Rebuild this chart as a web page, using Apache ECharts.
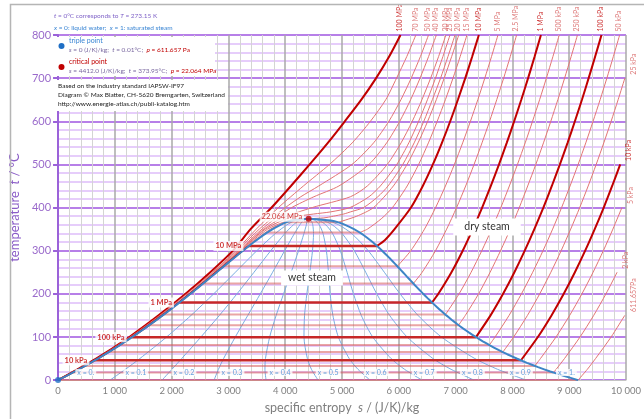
<!DOCTYPE html>
<html><head><meta charset="utf-8">
<script src="https://cdn.jsdelivr.net/npm/echarts@6/dist/echarts.min.js"></script>
<style>html,body{margin:0;padding:0;background:#fff}#c{width:644px;height:419px}</style>
</head><body><div id="c"></div>
<script>
// ---------- DATA (s in J/(K·kg), t in °C) ----------
const SAT_T  = [0.01,10,20,30,40,50,60,70,80,90,100,110,120,130,140,150,160,170,180,190,200,210,220,230,240,250,260,270,280,290,300,310,320,330,340,350,360,365,370,372,373.95];
const SAT_SL = [0,151,297,437,572,704,831,955,1076,1193,1307,1419,1528,1635,1739,1842,1943,2042,2139,2236,2331,2425,2518,2610,2702,2794,2885,2977,3069,3161,3255,3351,3449,3552,3660,3778,3917,4001,4111,4200,4412];
const SAT_SV = [9156,8900,8666,8452,8256,8075,7908,7754,7611,7478,7354,7238,7129,7026,6929,6837,6749,6665,6584,6506,6430,6356,6284,6213,6142,6072,6002,5930,5858,5783,5706,5624,5537,5442,5336,5211,5054,4950,4801,4660,4412];

const Q_T  = [0.01,25,50,100,150,200,250,300,340,360,370,373.95];
const Q_01 = [916,1186,1441,1912,2342,2741,3122,3500,3828,4031,4180,4412];
const Q_02 = [1831,2005,2178,2516,2841,3151,3450,3745,3995,4144,4249,4412];
const Q_03 = [2747,2824,2915,3121,3341,3561,3778,3990,4163,4258,4318,4412];
const Q_04 = [3662,3643,3652,3726,3840,3971,4105,4235,4330,4372,4387,4412];
const Q_05 = [4578,4462,4390,4330,4340,4381,4433,4480,4498,4485,4456,4412];
const Q_06 = [5493,5281,5127,4935,4839,4791,4761,4725,4665,4599,4525,4412];
const Q_07 = [6409,6101,5864,5540,5339,5201,5089,4970,4833,4713,4594,4412];
const Q_08 = [7324,6920,6601,6145,5838,5611,5417,5216,5000,4827,4663,4412];
const Q_09 = [8240,7739,7338,6749,6338,6021,5745,5461,5168,4940,4732,4412];
const QL_S = [261,1107,1953,2799,3645,4492,5338,6184,7031,7877,8723];
const QL_T = 17.5;
const QL_TEXT = ['x = 0.','x = 0.1','x = 0.2','x = 0.3','x = 0.4','x = 0.5','x = 0.6','x = 0.7','x = 0.8','x = 0.9','x = 1.'];

// supercritical isobars [s, t]
const P_100MPA = [[0,0],[670,50],[1255,100],[1770,150],[2245,200],[2680,250],[3080,300],[3390,350],[3760,400],[4100,450],[4430,500],[4750,550],[5050,600],[5340,650],[5600,700],[5830,750],[6030,800]];
const P_70MPA  = [[0,0],[685,50],[1270,100],[1790,150],[2270,200],[2720,250],[3130,300],[3490,350],[3880,400],[4320,450],[4780,500],[5180,550],[5500,600],[5770,650],[5960,700],[6140,750],[6300,800]];
const P_50MPA  = [[0,0],[697,50],[1279,100],[1823,150],[2299,200],[2736,250],[3149,300],[3543,350],[3764,375],[4003,400],[4273,425],[4590,450],[5176,500],[5556,550],[5825,600],[6037,650],[6218,700],[6380,750],[6523,800]];
const P_40MPA  = [[0,0],[700,50],[1285,100],[1828,150],[2310,200],[2755,250],[3175,300],[3590,350],[3829,375],[4115,400],[4504,425],[4945,450],[5474,500],[5786,550],[6017,600],[6208,650],[6374,700],[6524,750],[6661,800]];
const P_30MPA  = [[0,0],[702,50],[1292,100],[1832,150],[2318,200],[2770,250],[3197,300],[3625,350],[3932,375],[4476,400],[5147,425],[5445,450],[5796,500],[6040,550],[6237,600],[6407,650],[6560,700],[6700,750],[6829,800]];
const P_25MPA  = [[0,0],[703,50],[1295,100],[1835,150],[2320,200],[2775,250],[3207,300],[3650,350],[4034,375],[4220,380],[4500,385],[4800,390],[5140,400],[5474,425],[5675,450],[5964,500],[6176,550],[6349,600],[6504,650],[6646,700],[6776,750],[6901,800]];
const P_22MPA  = [[0,0],[703,50],[1297,100],[1838,150],[2323,200],[2780,250],[3215,300],[3690,350],[3950,365],[4080,370],[4412,373.95],[4680,376],[4850,380],[5030,385],[5150,390],[5380,400],[5630,425],[5810,450],[6070,500],[6270,550],[6440,600],[6590,650],[6735,700],[6865,750],[6990,800]];

// subcritical: compressed-liquid parts
const L_20MPA = [[0,0],[702,50],[1298,100],[1837,150],[2323,200],[2782,250],[3225,300],[3740,350],[4015,365.75]];
const L_15MPA = [[0,0],[702,50],[1300,100],[1838,150],[2326,200],[2786,250],[3238,300],[3685,342.16]];
const L_10MPA = [[0,0],[701,50],[1302,100],[1836,150],[2324,200],[2785,250],[3247,300],[3360,311.0]];

// subcritical: wet-steam segments
const WET_NAME = ['20 MPa','15 MPa','10 MPa','5 MPa','2.5 MPa','1 MPa','500 kPa','250 kPa','100 kPa','50 kPa','25 kPa','10 kPa','5 kPa','2 kPa','611.657Pa'];
const WET_T  = [365.75,342.16,311.00,263.94,223.95,179.88,151.83,127.41,99.61,81.32,64.96,45.81,32.87,17.50,0.01];
const WET_SF = [4015,3685,3360,2921,2554,2138,1860,1607,1303,1091,893,649,476,261,0];
const WET_SG = [4931,5311,5616,5974,6256,6585,6821,7052,7359,7593,7831,8149,8394,8723,9156];

// subcritical: superheated-steam parts
const V_20MPA  = [[4931,365.75],[5260,380],[5555,400],[5904,450],[6145,500],[6339,550],[6508,600],[6660,650],[6799,700],[6930,750],[7055,800]];
const V_15MPA  = [[5311,342.16],[5447,350],[5700,375],[5888,400],[6147,450],[6349,500],[6521,550],[6676,600],[6820,650],[6954,700],[7080,750],[7200,800]];
const V_10MPA  = [[5616,311.0],[5757,325],[5925,350],[6214,400],[6422,450],[6600,500],[6759,550],[6905,600],[7040,650],[7170,700],[7292,750],[7409,800]];
const V_5MPA   = [[5974,263.94],[6211,300],[6452,350],[6648,400],[6821,450],[6978,500],[7124,550],[7261,600],[7391,650],[7514,700],[7632,750],[7746,800]];
const V_2_5MPA = [[6256,223.95],[6411,250],[6646,300],[6842,350],[7017,400],[7177,450],[7325,500],[7465,550],[7598,600],[7724,650],[7846,700],[7962,750],[8074,800]];
const V_1MPA   = [[6585,179.88],[6696,200],[6927,250],[7125,300],[7303,350],[7467,400],[7620,450],[7764,500],[7900,550],[8031,600],[8156,650],[8276,700],[8391,750],[8502,800]];
const V_500KPA = [[6821,151.83],[7061,200],[7273,250],[7461,300],[7635,350],[7796,400],[7946,450],[8089,500],[8225,550],[8354,600],[8479,650],[8598,700],[8713,750],[8824,800]];
const V_250KPA = [[7052,127.41],[7171,150],[7405,200],[7607,250],[7791,300],[7963,350],[8121,400],[8269,450],[8412,500],[8547,550],[8676,600],[8800,650],[8919,700],[9034,750],[9145,800]];
const V_100KPA = [[7359,99.61],[7615,150],[7836,200],[8035,250],[8217,300],[8386,350],[8545,400],[8694,450],[8836,500],[8971,550],[9100,600],[9224,650],[9342,700],[9457,750],[9568,800]];
const V_50KPA  = [[7593,81.32],[7695,100],[7941,150],[8159,200],[8357,250],[8539,300],[8708,350],[8866,400],[9015,450],[9157,500],[9292,550],[9420,600],[9544,650],[9663,700],[9777,750],[9888,800]];
const V_25KPA  = [[7831,64.96],[8022,100],[8265,150],[8481,200],[8677,250],[8858,300],[9026,350],[9185,400],[9334,450],[9475,500],[9609,550],[9738,600],[9861,650],[9980,700]];
const V_10KPA  = [[8149,45.81],[8174,50],[8448,100],[8688,150],[8904,200],[9100,250],[9281,300],[9449,350],[9608,400],[9756,450],[9898,500]];
const V_5KPA   = [[8394,32.87],[8494,50],[8768,100],[9008,150],[9224,200],[9420,250],[9601,300],[9769,350],[9928,400]];
const V_2KPA   = [[8723,17.50],[8770,25],[8917,50],[9191,100],[9431,150],[9647,200],[9843,250]];
const V_611PA  = [[9156,0.01],[9319,25],[9464,50],[9738,100],[9978,150]];

const TRIPLE = [0, 0.01];
const CRIT = [4412, 373.95];
const DECADES = ['100 MPa','10 MPa','1 MPa','100 kPa','10 kPa'];
const SAT_LABELS = ['10 kPa','100 kPa','1 MPa','10 MPa'];
const RIGHT_LABELS = ['25 kPa','10 kPa','5 kPa','2 kPa','611.657Pa'];

// ---------- BUILD ----------
const FONT = 'Lato, "Liberation Sans", sans-serif';
const ISOBARS = [
  {name:'100 MPa', full:P_100MPA}, {name:'70 MPa', full:P_70MPA}, {name:'50 MPa', full:P_50MPA},
  {name:'40 MPa', full:P_40MPA}, {name:'30 MPa', full:P_30MPA}, {name:'25 MPa', full:P_25MPA},
  {name:'22.064 MPa', full:P_22MPA, noTop:true},
  {name:'20 MPa', liq:L_20MPA, vap:V_20MPA}, {name:'15 MPa', liq:L_15MPA, vap:V_15MPA},
  {name:'10 MPa', liq:L_10MPA, vap:V_10MPA}, {name:'5 MPa', vap:V_5MPA}, {name:'2.5 MPa', vap:V_2_5MPA},
  {name:'1 MPa', vap:V_1MPA}, {name:'500 kPa', vap:V_500KPA}, {name:'250 kPa', vap:V_250KPA},
  {name:'100 kPa', vap:V_100KPA}, {name:'50 kPa', vap:V_50KPA}, {name:'25 kPa', vap:V_25KPA},
  {name:'10 kPa', vap:V_10KPA}, {name:'5 kPa', vap:V_5KPA}, {name:'2 kPa', vap:V_2KPA}, {name:'611.657Pa', vap:V_611PA}
];

const series = [];
function line(data, color, width, z, smooth) {
  series.push({type:'line', data, symbol:'none', showSymbol:false, smooth: smooth === undefined ? 0.25 : smooth,
    lineStyle:{color, width}, z, silent:true, animation:false});
}
[Q_01,Q_02,Q_03,Q_04,Q_05,Q_06,Q_07,Q_08,Q_09].forEach(q => line(Q_T.map((t,i)=>[q[i],t]), '#79ade0', 1, 2));
WET_T.forEach((t,i) => {
  const dec = DECADES.includes(WET_NAME[i]);
  line([[WET_SF[i],t],[WET_SG[i],t]], dec ? '#c62828' : 'rgba(214,76,76,0.5)', dec ? 2.5 : 2, 3, false);
});
ISOBARS.forEach(b => {
  const dec = DECADES.includes(b.name);
  const col = dec ? '#c00000' : '#e27474', w = dec ? 2 : 1;
  [b.full, b.liq, b.vap].forEach(d => { if (d) line(d, col, w, 3); });
});
const dome = SAT_SL.map((s,i)=>[s,SAT_T[i]]).concat(SAT_SV.map((s,i)=>[s,SAT_T[i]]).reverse());
line(dome, '#3d85c6', 2, 5, 0.15);

series.push({type:'scatter', z:8, silent:true, symbolSize:6, data:[
  {value:TRIPLE, itemStyle:{color:'#1f6fc5'}}, {value:CRIT, itemStyle:{color:'#c00000'}}]});

const ends = ISOBARS.map(b => { const d = b.full || b.vap; return {name:b.name, pt:d[d.length-1], noTop:b.noTop}; });
const labelData = [];
ends.forEach(e => {
  const dec = DECADES.includes(e.name);
  const right = RIGHT_LABELS.includes(e.name);
  if (e.noTop) return;
  labelData.push({value:e.pt, label:{show:true, formatter:e.name, position: right ? [9,-3] : [0,-3], rotate:90,
    align:'left', verticalAlign:'middle', fontSize:7, fontFamily:FONT, color: dec ? '#c00000' : '#d45555'}});
});
SAT_LABELS.forEach(n => {
  const i = WET_NAME.indexOf(n);
  labelData.push({value:[WET_SF[i], WET_T[i]], label:{show:true, formatter:n, position:'left', distance:5,
    fontSize:7.5, fontWeight:'bold', fontFamily:FONT, color:'#c00000', backgroundColor:'#fff', padding:[1,2]}});
});
labelData.push({value:CRIT, label:{show:true, formatter:'22.064 MPa', position:'left', distance:4, offset:[0,-2],
  fontSize:7.5, fontFamily:FONT, color:'#c00000', backgroundColor:'#fff', padding:[1,2]}});
QL_S.forEach((s,i) => labelData.push({value:[s, QL_T], label:{show:true, formatter:QL_TEXT[i], position:'right', distance:2,
  fontSize:7, fontFamily:FONT, color:'#3b86d4', backgroundColor:'#fff', padding:[0,2]}}));
series.push({type:'scatter', z:20, silent:true, symbolSize:1, itemStyle:{color:'rgba(0,0,0,0)'}, data:labelData});

const fmt = v => String(v).replace(/\B(?=(\d{3})+(?!\d))/g, '\u00a0');
const txt = (x, y, text, fill, extra) => Object.assign({type:'text', z:100, x, y,
  style:Object.assign({text, fill, fontSize:6.5, fontFamily:FONT, align:'left', verticalAlign:'middle', textAlign:'left', textVerticalAlign:'middle'}, extra||{})});
const G = '#7a68a0', R = '#c00000', B = '#3b86d4';
const rich = {
  g:{fill:G, color:G, fontSize:6.5, fontFamily:FONT}, gi:{fill:G, color:G, fontSize:6.5, fontStyle:'italic', fontFamily:FONT},
  r:{fill:R, color:R, fontSize:6.5, fontFamily:FONT}, ri:{fill:R, color:R, fontSize:6.5, fontStyle:'italic', fontFamily:FONT},
  p:{fill:'#8064c8', color:'#8064c8', fontSize:6.5, fontFamily:FONT}, pi:{fill:'#8064c8', color:'#8064c8', fontSize:6.5, fontStyle:'italic', fontFamily:FONT},
  b:{fill:B, color:B, fontSize:6.5, fontFamily:FONT}, bi:{fill:B, color:B, fontSize:6.5, fontStyle:'italic', fontFamily:FONT}
};
const graphic = [
  {type:'rect', z:100, shape:{x:10.5, y:4.5, width:800, height:800}, style:{fill:'none', stroke:'#b5b5b5', lineWidth:1.5}},
  txt(54, 16, '{pi|t}{p| = 0°C corresponds to }{pi|T}{p| = 273.15 K}', '#8064c8', {rich}),
  txt(54, 28, '{bi|x}{b| = 0: liquid water;  }{bi|x}{b| = 1: saturated steam}', B, {rich}),
  {type:'rect', z:100, shape:{x:55, y:37, width:160, height:39}, style:{fill:'#fff'}},
  {type:'rect', z:100, shape:{x:55, y:80, width:173, height:31}, style:{fill:'#fff'}},
  {type:'circle', z:101, shape:{cx:61.5, cy:46, r:3}, style:{fill:'#1f6fc5'}},
  {type:'circle', z:101, shape:{cx:61.5, cy:67, r:3}, style:{fill:'#c00000'}},
  txt(69, 41, 'triple point', B, {fontSize:7}),
  txt(69, 50, '{gi|s}{g| = 0 (J/K)/kg;  }{gi|t}{g| = 0.01°C;  }{ri|p}{r| = 611.657 Pa}', G, {rich}),
  txt(69, 62, 'critical point', R, {fontSize:7}),
  txt(69, 71, '{gi|s}{g| = 4412.0 (J/K)/kg;  }{gi|t}{g| = 373.95°C;  }{ri|p}{r| = 22.064 MPa}', G, {rich}),
  txt(58, 86, 'Based on the industry standard IAPSW-IF97', '#222'),
  txt(58, 95, 'Diagram © Max Blatter, CH-5620 Bremgarten, Switzerland', '#222'),
  txt(58, 104, 'http://www.energie-atlas.ch/publi-katalog.htm', '#222'),
  {type:'text', z:100, x:312, y:278, style:{text:'wet steam', fill:'#333', fontSize:10.5, fontFamily:FONT, align:'center', verticalAlign:'middle', textAlign:'center', textVerticalAlign:'middle', backgroundColor:'#fff', padding:[2,7]}},
  {type:'text', z:100, x:487, y:227, style:{text:'dry steam', fill:'#333', fontSize:10.5, fontFamily:FONT, align:'center', verticalAlign:'middle', textAlign:'center', textVerticalAlign:'middle', backgroundColor:'#fff', padding:[3,11]}}
];

const chart = echarts.init(document.getElementById('c'));
chart.setOption({
  animation:false, backgroundColor:'#fff', textStyle:{fontFamily:FONT},
  grid:{left:54, right:7, top:35, bottom:35, containLabel:false},
  xAxis:{type:'value', min:0, max:10000, interval:1000,
    name:'specific entropy  {i|s} / (J/K)/kg', nameLocation:'middle', nameGap:19,
    nameTextStyle:{color:'#7f7f7f', fontSize:12.5, fontFamily:FONT, rich:{i:{fontStyle:'italic', color:'#7f7f7f', fontSize:12.5, fontFamily:FONT}}},
    axisLine:{show:true, onZero:false, lineStyle:{color:'#c4c4c4', width:1}}, axisTick:{show:false},
    axisLabel:{color:'#808080', fontSize:9.5, margin:6, formatter:fmt},
    splitLine:{show:true, lineStyle:{color:'#a9a9a9', width:1.5}},
    minorTick:{show:false, splitNumber:5}, minorSplitLine:{show:true, lineStyle:{color:'#d4d4d4', width:1}}},
  yAxis:{type:'value', min:0, max:800, interval:100,
    name:'temperature  {i|t} / °C', nameLocation:'middle', nameGap:29, nameRotate:90,
    nameTextStyle:{color:'#8a5cc7', fontSize:13, fontFamily:FONT, rich:{i:{fontStyle:'italic', color:'#8a5cc7', fontSize:13, fontFamily:FONT}}},
    axisLine:{show:true, lineStyle:{color:'#9b62d9', width:2}}, axisTick:{show:true, length:5, lineStyle:{color:'#9b62d9', width:2}},
    axisLabel:{color:'#9a6acb', fontSize:11, margin:7},
    splitLine:{show:true, lineStyle:{color:'#b77fe8', width:2}},
    minorTick:{show:false, splitNumber:5}, minorSplitLine:{show:true, lineStyle:{color:'#e6cdfb', width:2}}},
  series, graphic
});
</script></body></html>
